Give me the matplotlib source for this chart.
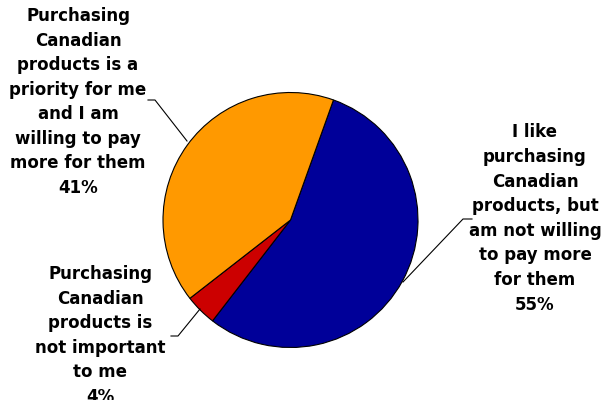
import matplotlib
matplotlib.use("Agg")
import matplotlib.pyplot as plt

# Survey responses
categories = [
    "I like\npurchasing\nCanadian\nproducts, but\nam not willing\nto pay more\nfor them",
    "Purchasing\nCanadian\nproducts is\nnot important\nto me",
    "Purchasing\nCanadian\nproducts is a\npriority for me\nand I am\nwilling to pay\nmore for them",
]
shares = [55, 4, 41]
colors = ["#000099", "#CC0000", "#FF9900"]

W, H = 605, 400
fig = plt.figure(figsize=(W / 100, H / 100), dpi=100)
ax = fig.add_axes([0, 0, 1, 1])

cx, cy, r = 290.5, H - 220, 127.5
ax.pie(shares, colors=colors, startangle=70.3, counterclock=False,
       center=(cx, cy), radius=r,
       wedgeprops=dict(edgecolor="black", linewidth=0.8))

# work in pixel units across the whole canvas
ax.set_xlim(0, W)
ax.set_ylim(0, H)
ax.set_aspect("equal")
ax.axis("off")

# label block centres (x, y from top) and leader line paths
label_pos = [(535, 218.5), (100, 335.5), (78, 102)]
leaders = [
    [(472, 219), (463, 219), (403, 282)],
    [(171, 336), (178, 336), (200, 309)],
    [(148, 100), (155, 100), (187, 141)],
]

for cat, val, (lx, ly), path in zip(categories, shares, label_pos, leaders):
    ax.text(lx, H - ly, f"{cat}\n{val}%", ha="center", va="center",
            multialignment="center", fontsize=12, fontweight="bold",
            family="DejaVu Sans", linespacing=1.47, color="black")
    xs = [p[0] for p in path]
    ys = [H - p[1] for p in path]
    ax.plot(xs, ys, color="black", linewidth=0.8)

fig.savefig("out.png", dpi=100)
